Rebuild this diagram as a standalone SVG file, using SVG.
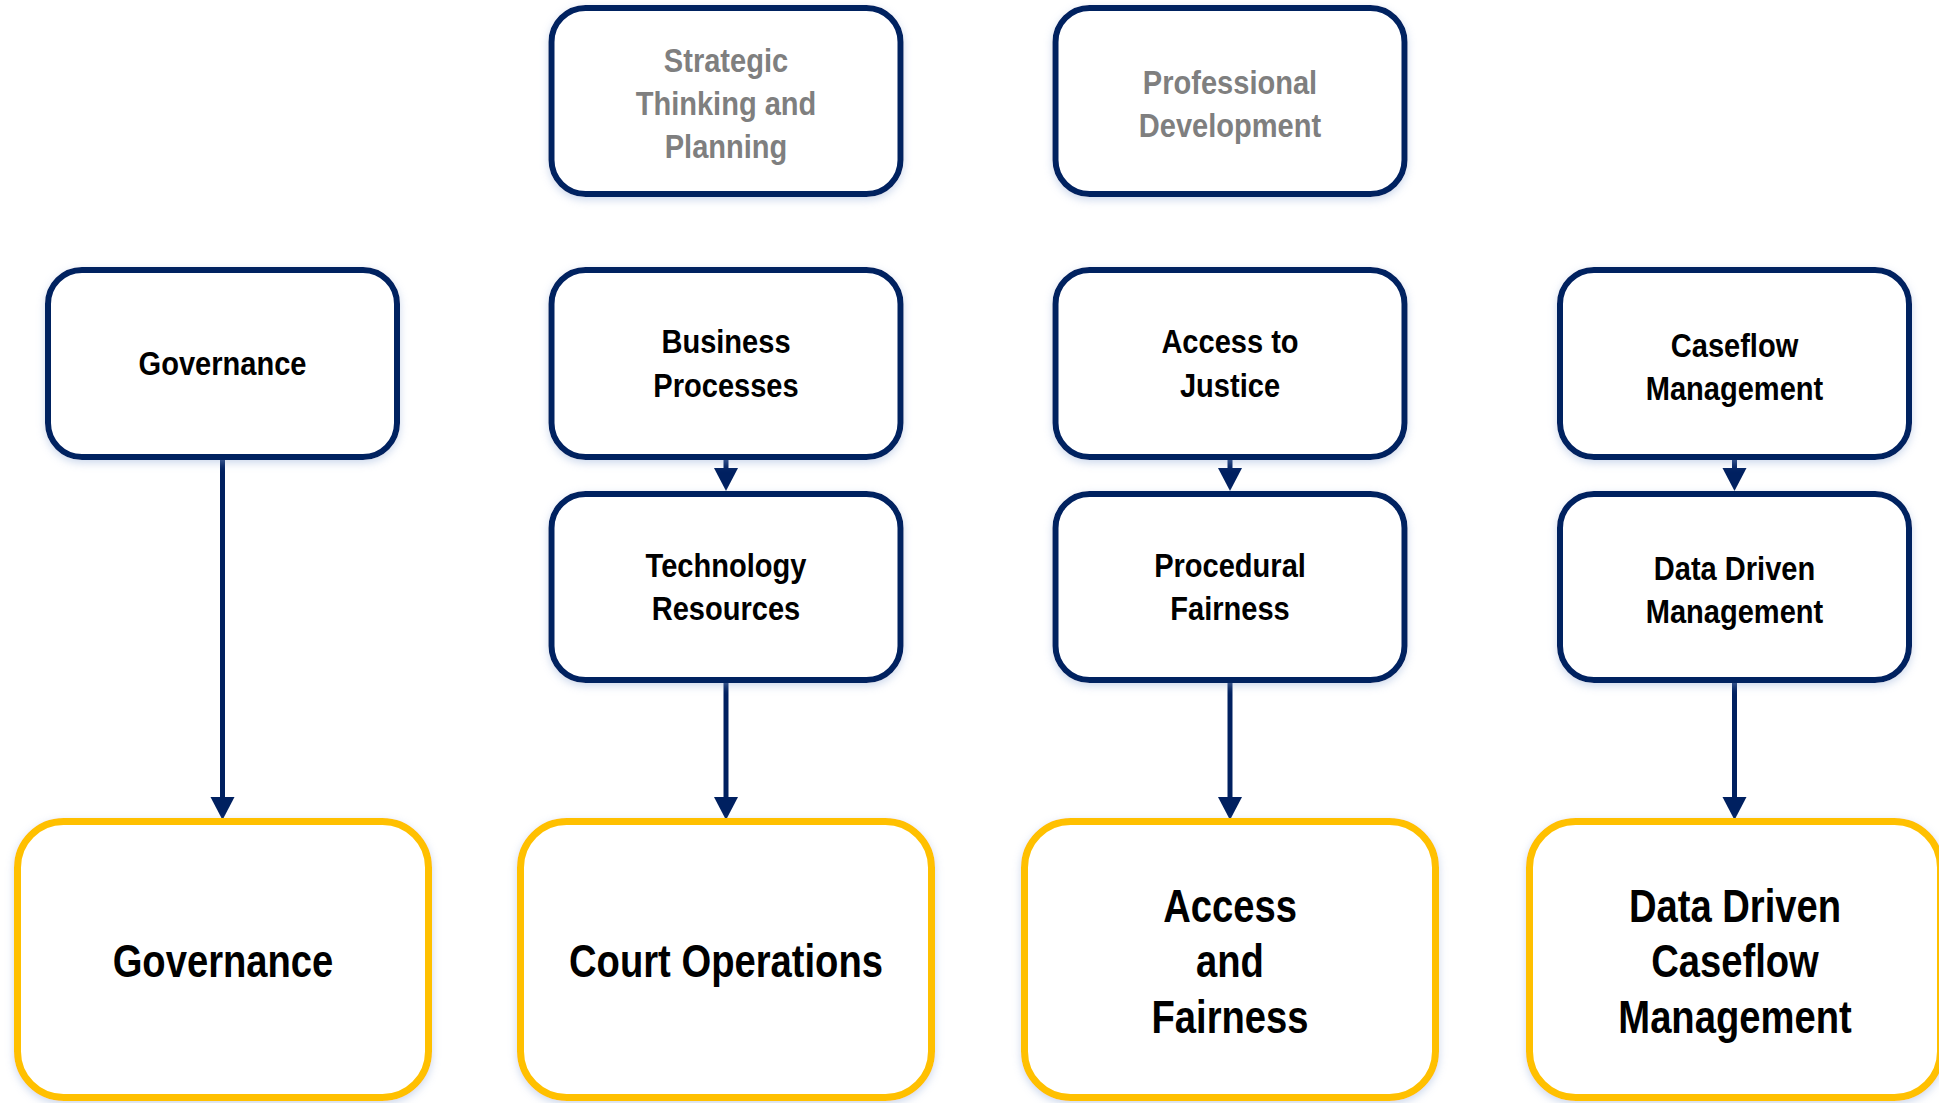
<svg xmlns="http://www.w3.org/2000/svg" width="1939" height="1103" viewBox="0 0 1939 1103">
<style>
.nb{fill:#fff;stroke:#002060;stroke-width:6}
.yb{fill:#fff;stroke:#FFC000;stroke-width:7}
.t{font-family:"Liberation Sans",Arial,sans-serif;font-weight:bold;font-size:33px;text-anchor:middle;fill:#000}
.g{fill:#7f7f7f}
.big{font-size:46px}
.ln{stroke:#002060;stroke-width:5;fill:none}
.ah{fill:#002060}
</style>
<defs>
<filter id="sh" x="-10%" y="-10%" width="120%" height="130%">
<feDropShadow dx="0" dy="3" stdDeviation="4" flood-color="#8fa9d6" flood-opacity="0.45"/>
</filter>
</defs>
<rect width="1939" height="1103" fill="#fff"/>
<g id="connectors">
<line class="ln" x1="222.5" y1="460" x2="222.5" y2="800"/>
<polygon class="ah" points="210.5,797 234.5,797 222.5,820"/>
<line class="ln" x1="726" y1="460" x2="726" y2="470"/>
<polygon class="ah" points="714,468 738,468 726,491"/>
<line class="ln" x1="726" y1="683" x2="726" y2="800"/>
<polygon class="ah" points="714,797 738,797 726,820"/>
<line class="ln" x1="1230" y1="460" x2="1230" y2="470"/>
<polygon class="ah" points="1218,468 1242,468 1230,491"/>
<line class="ln" x1="1230" y1="683" x2="1230" y2="800"/>
<polygon class="ah" points="1218,797 1242,797 1230,820"/>
<line class="ln" x1="1734.5" y1="460" x2="1734.5" y2="470"/>
<polygon class="ah" points="1722.5,468 1746.5,468 1734.5,491"/>
<line class="ln" x1="1734.5" y1="683" x2="1734.5" y2="800"/>
<polygon class="ah" points="1722.5,797 1746.5,797 1734.5,820"/>
</g>
<g id="strategic">
<rect class="nb" x="551.5" y="8" width="349" height="186" rx="34" filter="url(#sh)"/>
<text class="t g" transform="matrix(0.88 0 0 1 726 0)"><tspan x="0" y="72">Strategic</tspan><tspan x="0" y="115">Thinking and</tspan><tspan x="0" y="158">Planning</tspan></text>
</g>
<g id="professional">
<rect class="nb" x="1055.5" y="8" width="349" height="186" rx="34" filter="url(#sh)"/>
<text class="t g" transform="matrix(0.88 0 0 1 1230 0)"><tspan x="0" y="94">Professional</tspan><tspan x="0" y="137">Development</tspan></text>
</g>
<g id="governance-sub">
<rect class="nb" x="48" y="270" width="349" height="187" rx="34" filter="url(#sh)"/>
<text class="t" transform="matrix(0.88 0 0 1 222.5 0)" x="0" y="375">Governance</text>
</g>
<g id="business">
<rect class="nb" x="551.5" y="270" width="349" height="187" rx="34" filter="url(#sh)"/>
<text class="t" transform="matrix(0.88 0 0 1 726 0)"><tspan x="0" y="353">Business</tspan><tspan x="0" y="397">Processes</tspan></text>
</g>
<g id="access">
<rect class="nb" x="1055.5" y="270" width="349" height="187" rx="34" filter="url(#sh)"/>
<text class="t" transform="matrix(0.88 0 0 1 1230 0)"><tspan x="0" y="353">Access to</tspan><tspan x="0" y="397">Justice</tspan></text>
</g>
<g id="caseflow">
<rect class="nb" x="1560" y="270" width="349" height="187" rx="34" filter="url(#sh)"/>
<text class="t" transform="matrix(0.88 0 0 1 1734.5 0)"><tspan x="0" y="357">Caseflow</tspan><tspan x="0" y="400">Management</tspan></text>
</g>
<g id="technology">
<rect class="nb" x="551.5" y="494" width="349" height="186" rx="34" filter="url(#sh)"/>
<text class="t" transform="matrix(0.88 0 0 1 726 0)"><tspan x="0" y="577">Technology</tspan><tspan x="0" y="620">Resources</tspan></text>
</g>
<g id="procedural">
<rect class="nb" x="1055.5" y="494" width="349" height="186" rx="34" filter="url(#sh)"/>
<text class="t" transform="matrix(0.88 0 0 1 1230 0)"><tspan x="0" y="577">Procedural</tspan><tspan x="0" y="620">Fairness</tspan></text>
</g>
<g id="datadriven">
<rect class="nb" x="1560" y="494" width="349" height="186" rx="34" filter="url(#sh)"/>
<text class="t" transform="matrix(0.88 0 0 1 1734.5 0)"><tspan x="0" y="580">Data Driven</tspan><tspan x="0" y="623">Management</tspan></text>
</g>
<g id="governance">
<rect class="yb" x="17.5" y="821.5" width="411" height="276" rx="46" filter="url(#sh)"/>
<text class="t big" transform="matrix(0.83 0 0 1 223 0)" x="0" y="977">Governance</text>
</g>
<g id="court-operations">
<rect class="yb" x="520.5" y="821.5" width="411" height="276" rx="46" filter="url(#sh)"/>
<text class="t big" transform="matrix(0.83 0 0 1 726 0)" x="0" y="977">Court Operations</text>
</g>
<g id="access-fairness">
<rect class="yb" x="1024.5" y="821.5" width="411" height="276" rx="46" filter="url(#sh)"/>
<text class="t big" transform="matrix(0.83 0 0 1 1230 0)"><tspan x="0" y="922">Access</tspan><tspan x="0" y="977">and</tspan><tspan x="0" y="1033">Fairness</tspan></text>
</g>
<g id="data-driven-caseflow">
<rect class="yb" x="1529.5" y="821.5" width="411" height="276" rx="46" filter="url(#sh)"/>
<text class="t big" transform="matrix(0.83 0 0 1 1735 0)"><tspan x="0" y="922">Data Driven</tspan><tspan x="0" y="977">Caseflow</tspan><tspan x="0" y="1033">Management</tspan></text>
</g>
</svg>
